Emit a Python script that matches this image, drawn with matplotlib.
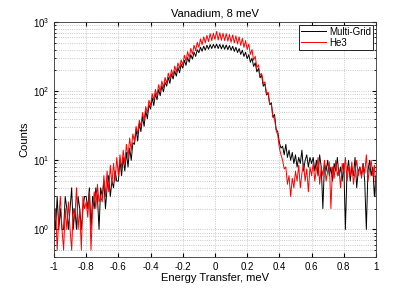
import numpy as np
import matplotlib.pyplot as plt
from matplotlib.ticker import FormatStrFormatter, LogLocator

plt.rcParams['font.family'] = ['Liberation Sans', 'DejaVu Sans']

# energy bins, -1 .. 1 meV in 0.01 steps (201 bins)
energy = np.linspace(-1.0, 1.0, 201)
xticks = [-1, -0.8, -0.6, -0.4, -0.2, 0, 0.2, 0.4, 0.6, 0.8, 1]

# Multi-Grid counts
multigrid = [
    2, 1, 3, 1, 2, 1, 1, 3, 2, 1,
    2, 4, 1, 2, 1, 3, 2, 1, 2, 3,
    3, 2, 4, 1, 3, 2, 4, 3, 1, 4,
    3, 5, 2, 4, 6, 3, 5, 4, 7, 5,
    5, 10, 6, 11, 7, 13, 8, 15, 10, 18,
    17, 28, 19, 34, 26, 43, 31, 52, 40, 64,
    55, 80, 62, 92, 75, 106, 86, 120, 98, 134,
    118, 158, 130, 178, 150, 196, 165, 220, 185, 244,
    215, 280, 236, 306, 262, 338, 290, 368, 318, 398,
    360, 432, 378, 448, 392, 462, 404, 472, 414, 476,
    420, 480, 414, 476, 410, 470, 404, 466, 398, 458,
    390, 446, 376, 432, 362, 414, 340, 392, 318, 366,
    294, 338, 262, 300, 228, 258, 190, 214, 156, 170,
    118, 128, 88, 94, 64, 68, 42, 46, 28, 26,
    18, 15, 16, 12, 17, 11, 14, 10, 13, 9,
    12, 8, 11, 9, 14, 7, 10, 12, 8, 11,
    9, 11, 7, 10, 6, 12, 8, 2, 9, 7,
    10, 6, 8, 5, 9, 7, 11, 6, 8, 5,
    9, 1, 7, 10, 5, 8, 6, 11, 4, 7,
    8, 6, 9, 5, 1, 7, 10, 6, 8, 3, 6,
]

# He3 counts (normalised)
he3 = [
    1, 2, 0.5, 1.5, 3, 1, 0.5, 2, 1, 2.5,
    1, 0.5, 2, 1.5, 4, 1, 2, 0.5, 3, 2,
    2.5, 1.5, 3.5, 0.5, 2, 3.5, 2, 4.5, 2.5, 3,
    2.5, 6, 3, 7, 3.5, 8.5, 4.5, 9, 5, 11,
    6, 12, 7.5, 14, 9, 17, 11, 21, 14, 24,
    19, 31, 24, 38, 31, 49, 38, 60, 48, 74,
    62, 92, 74, 106, 86, 124, 100, 140, 112, 158,
    130, 182, 150, 204, 168, 230, 190, 256, 214, 284,
    240, 330, 272, 372, 306, 416, 344, 462, 384, 510,
    430, 570, 470, 610, 500, 640, 520, 680, 540, 690,
    560, 730, 550, 700, 545, 690, 540, 680, 530, 660,
    510, 650, 500, 630, 480, 610, 460, 580, 430, 540,
    400, 480, 340, 400, 280, 320, 220, 240, 170, 180,
    128, 136, 92, 96, 64, 64, 42, 40, 27, 23,
    15, 12, 10, 7.5, 8, 4.5, 6, 3, 5.5, 4,
    7, 5, 8.5, 4, 6.5, 9, 5, 7.5, 3.5, 8,
    6, 9, 5, 7.5, 11, 4.5, 8, 6, 10, 5,
    7, 9.5, 2, 8, 5.5, 10, 6, 7.5, 4, 9,
    6.5, 11, 5, 8, 6, 9.5, 4.5, 7, 10, 6,
    8, 5.5, 9, 6.5, 12, 5, 7.5, 10, 6, 8.5, 3,
]

fig = plt.figure(figsize=(4.15, 2.9), dpi=100)
ax = fig.add_axes([0.130, 0.114, 0.776, 0.810])

ax.plot(energy, multigrid, color='k', lw=0.7, label='Multi-Grid')
ax.plot(energy, he3, color='#ff0000', lw=0.7, label='He3')

ax.set_yscale('log')
ax.set_xlim(-1, 1)
ax.set_ylim(0.4, 1000)
ax.set_xticks(xticks)
ax.xaxis.set_major_formatter(FormatStrFormatter('%g'))
ax.yaxis.set_major_locator(LogLocator(base=10, numticks=10))

ax.grid(True, which='major', ls=':', lw=0.6, color='#b8b8b8')
ax.grid(True, which='minor', axis='y', ls=':', lw=0.6, color='#b8b8b8')
ax.tick_params(which='both', direction='in', top=True, right=True, labelsize=7)
ax.tick_params(which='major', length=3)
ax.tick_params(which='minor', length=1.5)
for s in ax.spines.values():
    s.set_linewidth(0.6)
    s.set_color('#333333')

ax.set_title('Vanadium, 8 meV', fontsize=8, pad=4)
ax.set_xlabel('Energy Transfer, meV', fontsize=8, labelpad=1)
ax.set_ylabel('Counts', fontsize=8, labelpad=2)

leg = ax.legend(loc='upper right', fontsize=7, fancybox=False, framealpha=1,
                edgecolor='k', borderaxespad=0.3, handlelength=2.6,
                handletextpad=0.3, borderpad=0.2, labelspacing=0.1)
leg.get_frame().set_linewidth(0.6)

fig.savefig('out.png', dpi=100)
